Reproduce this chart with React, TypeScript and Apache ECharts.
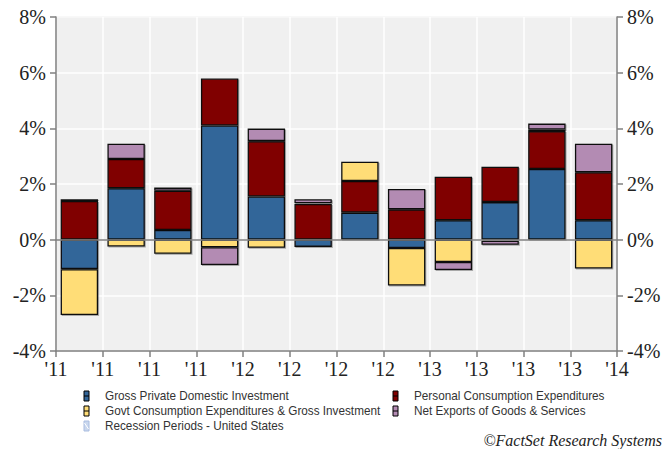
import React, { useEffect, useRef } from "react";
import * as echarts from "echarts";

const quarters = ["Q1 2011", "Q2 2011", "Q3 2011", "Q4 2011", "Q1 2012", "Q2 2012", "Q3 2012", "Q4 2012", "Q1 2013", "Q2 2013", "Q3 2013", "Q4 2013"];
const tickLabels = ["'11", "'11", "'11", "'11", "'12", "'12", "'12", "'12", "'13", "'13", "'13", "'13", "'14"];
const grossPrivateInvestment = [-1.06, 1.85, 0.35, 4.1, 1.55, -0.26, 0.97, -0.3, 0.7, 1.35, 2.54, 0.7];
const personalConsumption = [1.39, 1.05, 1.41, 1.69, 1.99, 1.28, 1.14, 1.09, 1.56, 1.27, 1.36, 1.72];
const govtConsumption = [-1.65, -0.25, -0.51, -0.27, -0.29, 0.03, 0.69, -1.35, -0.8, -0.04, 0.06, -1.04];
const netExports = [0.06, 0.55, 0.11, -0.64, 0.45, 0.14, -0.03, 0.73, -0.29, -0.14, 0.21, 1.03];

const seriesNames = [
  "Gross Private Domestic Investment",
  "Personal Consumption Expenditures",
  "Govt Consumption Expenditures & Gross Investment",
  "Net Exports of Goods & Services",
];
const seriesColors = ["#336699", "#800000", "#FFDD77", "#B38BB3"];
const seriesData = [grossPrivateInvestment, personalConsumption, govtConsumption, netExports];
const recessionName = "Recession Periods - United States";

export default function App() {
  const ref = useRef<HTMLDivElement>(null);
  useEffect(() => {
    if (!ref.current) return;
    const chart = echarts.init(ref.current, undefined, { renderer: "svg" });
    const serif = "Liberation Serif, Times New Roman, serif";
    const sans = "Liberation Sans, Arial, sans-serif";

    const legendEntry = (name: string, color: string, border: string, x: number, y: number, hatch = false) => ({
      type: "group",
      children: [
        {
          type: "rect",
          shape: { x, y: y - 5, width: 5, height: 10 },
          style: { fill: color, stroke: border, lineWidth: 1 },
        },
        hatch
          ? {
              type: "line",
              shape: { x1: x + 0.5, y1: y - 3, x2: x + 4.5, y2: y + 3 },
              style: { stroke: "#ffffff", lineWidth: 1 },
            }
          : {
              type: "line",
              shape: { x1: x, y1: y, x2: x + 5, y2: y },
              style: { stroke: border, lineWidth: 1 },
            },
        {
          type: "text",
          x: x + 21,
          y,
          scaleX: 0.87,
          style: {
            text: name,
            fontFamily: sans,
            fontSize: 13.5,
            fill: "#333",
            verticalAlign: "middle",
            textAlign: "left",
          },
        },
      ],
    });

    const yLabel = {
      margin: 10,
      fontFamily: serif,
      fontSize: 20,
      color: "#222",
      formatter: (v: number) => `${v}%`,
    };

    const option: any = {
      animation: false,
      backgroundColor: "#fff",
      grid: {
        left: 56,
        right: 49,
        top: 17,
        bottom: 98,
        show: true,
        backgroundColor: "#f0f0f0",
        borderColor: "#c8c8c8",
        borderWidth: 1,
        containLabel: false,
      },
      xAxis: [
        {
          type: "category",
          data: quarters,
          position: "bottom",
          boundaryGap: true,
          axisLine: { show: true, onZero: true, lineStyle: { color: "#808080", width: 1.5 } },
          axisTick: { show: false },
          axisLabel: { show: false },
          splitLine: { show: false },
          z: 5,
        },
        {
          type: "value",
          position: "bottom",
          min: 0,
          max: 12,
          interval: 1,
          axisLine: { show: true, onZero: false, lineStyle: { color: "#808080", width: 1.5 } },
          axisTick: { show: true, length: 6, lineStyle: { color: "#808080", width: 1.5 } },
          axisLabel: {
            show: true,
            margin: 8,
            fontFamily: serif,
            fontSize: 20,
            color: "#222",
            showMinLabel: true,
            showMaxLabel: true,
            formatter: (v: number) => tickLabels[Math.round(v)] ?? "",
          },
          splitLine: { show: true, lineStyle: { color: "#ffffff", width: 1.5 } },
        },
      ],
      yAxis: [
        {
          type: "value",
          position: "left",
          min: -4,
          max: 8,
          interval: 2,
          axisLine: { show: true, lineStyle: { color: "#808080", width: 1.5 } },
          axisTick: { show: true, length: 6, lineStyle: { color: "#808080", width: 1.5 } },
          axisLabel: yLabel,
          splitLine: { show: true, lineStyle: { color: "#ffffff", width: 1.5 } },
        },
        {
          type: "value",
          position: "right",
          min: -4,
          max: 8,
          interval: 2,
          axisLine: { show: true, lineStyle: { color: "#808080", width: 1.5 } },
          axisTick: { show: true, length: 6, lineStyle: { color: "#808080", width: 1.5 } },
          axisLabel: yLabel,
          splitLine: { show: false },
        },
      ],
      series: seriesNames.map((name, i) => ({
        name,
        type: "bar",
        stack: "total",
        xAxisIndex: 0,
        yAxisIndex: 0,
        barWidth: "80%",
        data: seriesData[i],
        itemStyle: {
          color: seriesColors[i],
          borderColor: "#111",
          borderWidth: 1.3,
          shadowColor: "rgba(0,0,0,0.3)",
          shadowOffsetX: 1,
          shadowOffsetY: 1,
          shadowBlur: 1,
        },
        emphasis: { disabled: true },
      })),
      graphic: [
        legendEntry(seriesNames[0], seriesColors[0], "#000", 84, 396),
        legendEntry(seriesNames[2], seriesColors[2], "#000", 84, 411),
        legendEntry(recessionName, "#c9d7ee", "#aabde0", 84, 426, true),
        legendEntry(seriesNames[1], seriesColors[1], "#000", 393, 396),
        legendEntry(seriesNames[3], seriesColors[3], "#000", 393, 411),
        {
          type: "text",
          right: 4,
          top: 432,
          style: {
            text: "©FactSet Research Systems",
            fontFamily: serif,
            fontStyle: "italic",
            fontSize: 16,
            fill: "#222",
          },
        },
      ],
    };
    chart.setOption(option);
    return () => chart.dispose();
  }, []);
  return <div ref={ref} style={{ width: 666, height: 449, position: "absolute", left: 0, top: 0 }} />;
}
